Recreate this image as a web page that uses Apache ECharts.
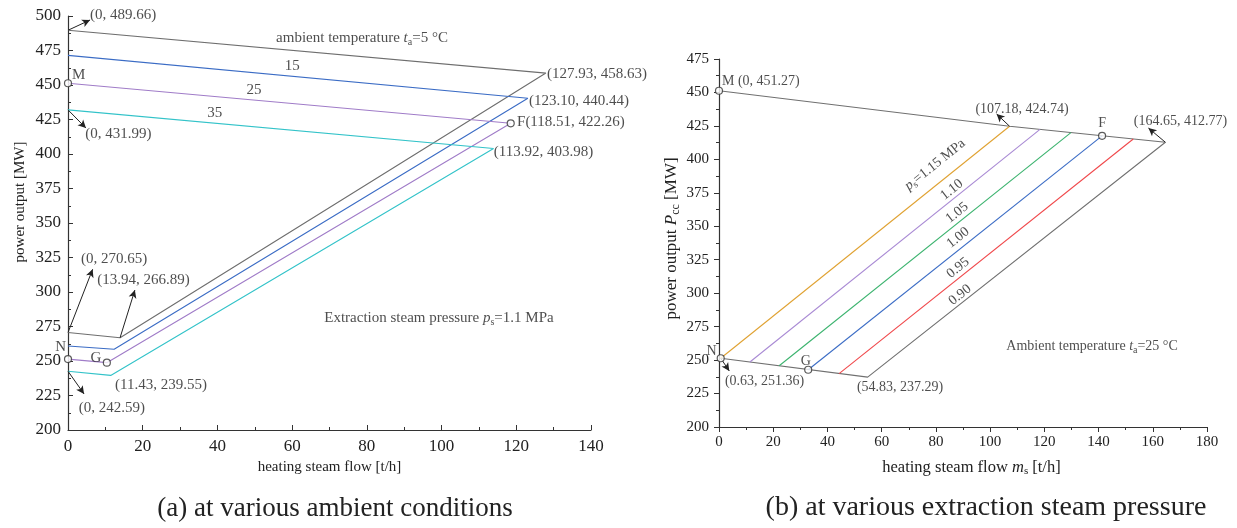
<!DOCTYPE html>
<html>
<head>
<meta charset="utf-8">
<script src="https://cdn.jsdelivr.net/npm/echarts@6/dist/echarts.min.js"></script>
<style>
  html, body { margin: 0; padding: 0; background: #fff; }
  #main { width: 1237px; height: 528px; }
</style>
</head>
<body>
<div id="main"></div>
<script>
// ---- data: (a) ambient temperature, ps = 1.1 MPa ----
// each outline: top-left, right corner, lower corner, bottom-left
var ta5  = [[0, 489.66], [127.93, 458.63], [13.94, 266.89], [0, 270.65]];
var ta15 = [[0, 471.5], [123.10, 440.44], [12.35, 258.5], [0, 260.9]];
var ta25 = [[0, 451.27], [118.51, 422.26], [10.4, 248.8], [0, 251.36]];
var ta35 = [[0, 431.99], [113.92, 403.98], [11.43, 239.55], [0, 242.59]];
var taNames = ['5', '15', '25', '35'];

// ---- data: (b) extraction pressure, ta = 25 C ----
var psNames  = ['1.15', '1.10', '1.05', '1.00', '0.95', '0.90'];
var psBottom = [[0.63, 251.36], [11.4, 248.6], [22.2, 245.8], [32.9, 242.8], [44.3, 239.9], [54.83, 237.29]];
var psTop    = [[107.18, 424.74], [118.4, 422.4], [129.8, 420.0], [141.3, 417.6], [152.8, 415.2], [164.65, 412.77]];
var pointM = [0, 451.27];

var xTicksA = [0, 140, 20];
var yTicksA = [200, 500, 25];
var xTicksB = [0, 180, 20];
var yTicksB = [200, 475, 25];

var serif = '"Liberation Serif", "Times New Roman", serif';
var ink = '#222';
var colorsA = ['#6e6e6e', '#3b6cc5', '#a07cc8', '#33c3c9'];
var colorsB = ['#e0a232', '#a98ad4', '#3bb36e', '#3b6cc5', '#f0474a', '#707070'];

function rich(size) {
  return {
    i: { fontStyle: 'italic', fontSize: size, fontFamily: serif, color: ink },
    sub: { fontSize: Math.round(size * 0.68), fontFamily: serif, color: ink, padding: [Math.round(size * 0.5), 0, 0, 0] }
  };
}

function textSeries(g, items, size) {
  return {
    type: 'scatter', xAxisIndex: g, yAxisIndex: g, symbolSize: 1, silent: true, clip: false, z: 6,
    itemStyle: { color: 'rgba(0,0,0,0)' },
    data: items.map(function (t) {
      return {
        value: t[0],
        label: {
          show: true, position: 'inside', formatter: t[1], align: t[2] || 'left', verticalAlign: 'middle',
          rotate: t[3] || 0, fontSize: size, fontFamily: serif, color: ink, rich: rich(size)
        }
      };
    })
  };
}

function arrowSeries(g, arrows) {
  return {
    type: 'line', xAxisIndex: g, yAxisIndex: g, data: [], silent: true,
    markLine: {
      silent: true, symbol: ['none', 'arrow'], symbolSize: [6, 8], animation: false,
      lineStyle: { color: ink, width: 1, type: 'solid' }, label: { show: false },
      data: arrows.map(function (a) { return [{ coord: a[0] }, { coord: a[1] }]; })
    }
  };
}

function markers(g, pts) {
  return {
    type: 'scatter', xAxisIndex: g, yAxisIndex: g, symbol: 'circle', symbolSize: 7, z: 5, silent: true,
    itemStyle: { color: '#fff', borderColor: '#333', borderWidth: 1.2 },
    data: pts
  };
}

function lineSeries(g, pts, color) {
  return {
    type: 'line', xAxisIndex: g, yAxisIndex: g, data: pts, showSymbol: false, silent: true,
    lineStyle: { color: color, width: 1.1 }
  };
}

function axis(g, t, inside, name, size, nameSize, gap, margin, namePad) {
  return {
    type: 'value', gridIndex: g, min: t[0], max: t[1], interval: t[2],
    name: name, nameLocation: 'middle', nameGap: gap,
    nameTextStyle: { fontFamily: serif, fontSize: nameSize, color: ink, rich: rich(nameSize), padding: namePad || 0 },
    axisLine: { show: true, lineStyle: { color: '#333', width: 1.2 } },
    axisTick: { show: true, inside: inside, length: 5, lineStyle: { color: '#333' } },
    minorTick: { show: true, splitNumber: 2, length: 3, lineStyle: { color: '#333' } },
    splitLine: { show: false },
    axisLabel: { fontFamily: serif, fontSize: size, color: ink, margin: margin }
  };
}

var series = [];
[ta5, ta15, ta25, ta35].forEach(function (d, i) { series.push(lineSeries(0, d, colorsA[i])); });

// (b) outline: top boundary, right edge (0.90), bottom boundary
series.push(lineSeries(1, [pointM, psTop[0], psTop[5], psBottom[5], psBottom[0]], colorsB[5]));
for (var i = 0; i < 5; i++) series.push(lineSeries(1, [psBottom[i], psTop[i]], colorsB[i]));

series.push(markers(0, [ta25[0], ta25[3], ta25[2], ta25[1]]));
series.push(markers(1, [pointM, psTop[3], psBottom[0], psBottom[3]]));

series.push(arrowSeries(0, [
  [ta5[0], [5.9, 497.1]],
  [ta35[0], [4.8, 418.8]],
  [ta5[3], [6.6, 316.5]],
  [ta5[2], [17.9, 301.4]],
  [ta35[3], [4.3, 226.1]]
]));
series.push(arrowSeries(1, [
  [psTop[0], [102.4, 433.9]],
  [psTop[5], [158.4, 423.4]],
  [psBottom[0], [3.8, 241.9]]
]));

series.push(textSeries(0, [
  [[5.9, 500.5], '(0, 489.66)'],
  [[4.6, 414.5], '(0, 431.99)'],
  [[1.1, 457.2], 'M'],
  [[3.5, 323.9], '(0, 270.65)'],
  [[7.8, 308.7], '(13.94, 266.89)'],
  [[-0.5, 260.1], 'N', 'right'],
  [[7.5, 252.2], 'G', 'center'],
  [[12.6, 232.6], '(11.43, 239.55)'],
  [[2.9, 215.9], '(0, 242.59)'],
  [[128.2, 458.0], '(127.93, 458.63)'],
  [[123.4, 438.4], '(123.10, 440.44)'],
  [[120.2, 423.4], 'F(118.51, 422.26)'],
  [[114.0, 401.4], '(113.92, 403.98)'],
  [[78.7, 484.1], 'ambient temperature {i|t}{sub|a}=' + taNames[0] + ' \u00b0C', 'center'],
  [[60.0, 463.8], taNames[1], 'center'],
  [[49.8, 446.4], taNames[2], 'center'],
  [[39.3, 429.7], taNames[3], 'center'],
  [[99.3, 281.2], 'Extraction steam pressure {i|p}{sub|s}=1.1 MPa', 'center']
], 15));

series.push(textSeries(1, [
  [[1.1, 458.0], 'M (0, 451.27)'],
  [[111.8, 437.6], '(107.18, 424.74)', 'center'],
  [[141.3, 427.2], 'F', 'center'],
  [[170.2, 428.3], '(164.65, 412.77)', 'center'],
  [[-2.7, 256.3], 'N', 'center'],
  [[32.0, 248.8], 'G', 'center'],
  [[16.8, 234.4], '(0.63, 251.36)', 'center'],
  [[66.8, 229.7], '(54.83, 237.29)', 'center'],
  [[137.6, 260.1], 'Ambient temperature {i|t}{sub|a}=25 \u00b0C', 'center'],
  [[79.7, 396.0], '{i|p}{sub|s}=' + psNames[0] + ' MPa', 'center', 38.7],
  [[85.9, 377.3], psNames[1], 'center', 38.7],
  [[87.8, 360.1], psNames[2], 'center', 38.7],
  [[88.2, 341.4], psNames[3], 'center', 38.7],
  [[88.2, 318.9], psNames[4], 'center', 38.7],
  [[88.9, 298.7], psNames[5], 'center', 38.7]
], 14));

var myChart = echarts.init(document.getElementById('main'));
var option = {
  animation: false,
  backgroundColor: '#fff',
  title: [
    { text: '(a) at various ambient conditions', left: 330, top: 490, textAlign: 'center',
      textStyle: { fontFamily: serif, fontSize: 27, fontWeight: 'normal', color: ink } },
    { text: '(b) at various extraction steam pressure', left: 981, top: 489, textAlign: 'center',
      textStyle: { fontFamily: serif, fontSize: 28, fontWeight: 'normal', color: ink } }
  ],
  grid: [
    { left: 68, top: 16, width: 523, height: 414 },
    { left: 719, top: 59, width: 488, height: 368 }
  ],
  xAxis: [
    axis(0, xTicksA, true, 'heating steam flow [t/h]', 17, 15, 27, 8),
    axis(1, xTicksB, false, 'heating steam flow {i|m}{sub|s} [t/h]', 15, 16.5, 31, 8, [0, 0, 0, 17])
  ],
  yAxis: [
    axis(0, yTicksA, true, 'power output [MW]', 17, 15, 40, 7, [0, 0, 0, 42]),
    axis(1, yTicksB, false, 'power output {i|P}{sub|cc} [MW]', 15, 17, 37, 10, [0, 0, 0, 9])
  ],
  series: series
};
myChart.setOption(option);
</script>
</body>
</html>
